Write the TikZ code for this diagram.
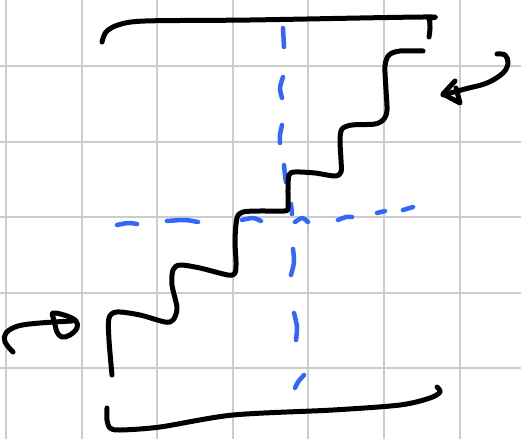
\documentclass[tikz,border=0pt]{standalone}
\begin{document}
\begin{tikzpicture}[x=1pt,y=-1pt,
  gridline/.style={line width=1.6pt,color=black!20},
  ink/.style={line width=5pt,line cap=round,line join=round,black},
  blueink/.style={line width=4.5pt,line cap=round,line join=round,color={rgb,255:red,51;green,102;blue,255}}]
\useasboundingbox (0,0) rectangle (521,439);
\fill[white] (0,0) rectangle (521,439);
% grid
\foreach \x in {6,82,157,233,308,384,460} \draw[gridline] (\x,0) -- (\x,439);
\foreach \y in {66,142,217,293,368} \draw[gridline] (0,\y) -- (521,\y);
% blue dashed vertical
\draw[blueink] plot[smooth] coordinates {(283,28) (284,47)};
\draw[blueink] plot[smooth] coordinates {(283,77) (280,88) (282,98)};
\draw[blueink] plot[smooth] coordinates {(282,125) (280,135) (280,143)};
\draw[blueink] plot[smooth] coordinates {(284,165) (285,175) (286,182)};
\draw[blueink] plot[smooth] coordinates {(291,204) (292,214)};
\draw[blueink] plot[smooth] coordinates {(293,249) (294,262) (291,275)};
\draw[blueink] plot[smooth] coordinates {(294,313) (297,327) (296,340)};
\draw[blueink] plot[smooth] coordinates {(304,375) (298,382) (295,388)};
% blue dashed horizontal
\draw[blueink] plot[smooth] coordinates {(117,225) (128,223) (137,224)};
\draw[blueink] plot[smooth] coordinates {(167,221) (185,220) (198,222)};
\draw[blueink] plot[smooth] coordinates {(242,220) (253,218) (261,221)};
\draw[blueink] plot[smooth] coordinates {(295,222) (302,218) (308,222)};
\draw[blueink] plot[smooth] coordinates {(338,220) (346,217) (352,217)};
\draw[blueink] plot[smooth] coordinates {(377,213) (385,211)};
\draw[blueink] plot[smooth] coordinates {(403,210) (413,207)};
% top bracket
\draw[ink] plot[smooth,tension=0.5] coordinates {(102,42) (106,32) (118,25) (145,21) (250,20) (423,17) (429,19) (430,28) (429,37)};
% bottom bracket
\draw[ink] plot[smooth,tension=0.5] coordinates {(107,408) (107,420) (110,428) (120,430) (160,427) (233,415) (333,410) (400,405) (430,398) (440,392) (437,387)};
% staircase
\draw[ink] plot[smooth,tension=0.5] coordinates {(423,51) (400,51) (389,55) (385,66) (386,90) (387,110) (384,119) (375,124) (352,125) (342,129) (340,140) (341,160) (341,172) (335,176) (315,173) (295,172) (289,175) (288,190) (288,208) (284,211) (260,211) (243,212) (237,218) (235,240) (236,262) (235,273) (228,275) (200,268) (180,265) (173,270) (172,285) (177,308) (173,320) (165,322) (140,315) (117,312) (109,318) (109,340) (112,375)};
% top-right arrow
\draw[ink] plot[smooth,tension=0.6] coordinates {(443,95) (465,89) (487,83) (503,73) (508,63) (505,55) (497,54)};
\draw[ink] (455,81) -- (443,94) -- (460,103) -- (456,88);
% bottom-left arrow
\draw[ink] plot[smooth,tension=0.6] coordinates {(13,352) (5,342) (6,333) (18,326) (40,323) (72,321)};
\draw[ink] plot[smooth cycle,tension=0.6] coordinates {(53,313) (67,316) (76,321) (77,328) (70,335) (62,337) (57,332) (54,320)};
\end{tikzpicture}
\end{document}
